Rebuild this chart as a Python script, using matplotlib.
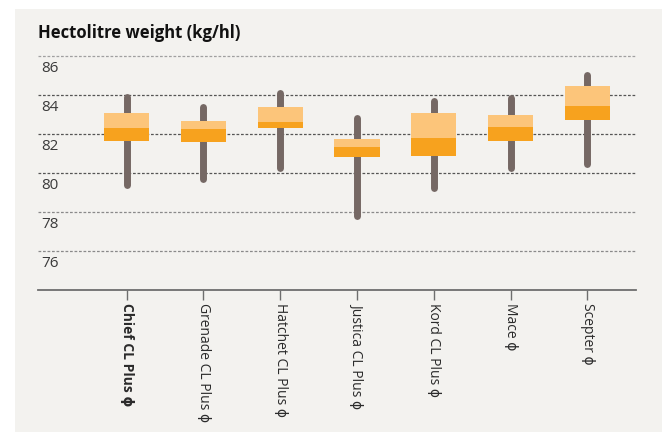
"""Hectolitre weight ranges for seven wheat varieties."""

import matplotlib
matplotlib.use("Agg")
import matplotlib.pyplot as plt
from matplotlib.patches import Rectangle

plt.rcParams["font.family"] = ["Open Sans", "DejaVu Sans"]

FIG_W, FIG_H = 662, 432
PANEL_COLOR = "#f3f2ef"
WHISKER_COLOR = "#756864"
LIGHT_ORANGE = "#fcc57a"
DARK_ORANGE = "#f7a21e"
BOX_WIDTH = 0.59
OUTPUT_FILENAME = "out.png"

varieties = ["Chief CL Plus ϕ", "Grenade CL Plus ϕ", "Hatchet CL Plus ϕ", "Justica CL Plus ϕ",
             "Kord CL Plus ϕ", "Mace ϕ", "Scepter ϕ"]
whisker_low = [79.4, 79.7, 80.25, 77.8, 79.25, 80.25, 80.45]
whisker_high = [83.9, 83.4, 84.1, 82.8, 83.7, 83.85, 85.05]
box_low = [81.65, 81.6, 82.3, 80.8, 80.85, 81.65, 82.7]
box_mid = [82.3, 82.25, 82.6, 81.35, 81.8, 82.35, 83.45]
box_high = [83.1, 82.65, 83.4, 81.75, 83.1, 82.95, 84.45]
y_ticks = [86, 84, 82, 80, 78, 76]
grid_colors = ["#a0a0a0", "#555555", "#555555", "#555555", "#8a8a8a", "#8a8a8a"]

fig = plt.figure(figsize=(FIG_W / 100, FIG_H / 100), dpi=100, facecolor="white")

# light grey panel behind everything
fig.patches.append(Rectangle((15 / FIG_W, 0), 1, 1 - 9 / FIG_H, transform=fig.transFigure,
                             facecolor=PANEL_COLOR, edgecolor="none", zorder=-1))

ax = fig.add_axes([38.3 / FIG_W, (FIG_H - 290) / FIG_H, 597.4 / FIG_W, 253.5 / FIG_H])
ax.set_facecolor("none")
ax.set_xlim(-1.15, 6.63)
ax.set_ylim(74, 87)

# dashed gridlines with the value written just below each one
for value, color in zip(y_ticks, grid_colors):
    ax.axhline(value, color=color, linewidth=0.9, linestyle=(0, (2.2, 1.4)), zorder=1)
    ax.text(0.005, value - 0.63, str(value), transform=ax.get_yaxis_transform(),
            ha="left", va="center", fontsize=11, color="#3a3a3a")

positions = range(len(varieties))
for x, lo, hi, q1, med, q3 in zip(positions, whisker_low, whisker_high, box_low, box_mid, box_high):
    ax.plot([x, x], [lo, hi], color=WHISKER_COLOR, linewidth=5, solid_capstyle="round", zorder=2)
    ax.bar(x, med - q1, bottom=q1, width=BOX_WIDTH, color=DARK_ORANGE, zorder=3)
    ax.bar(x, q3 - med, bottom=med, width=BOX_WIDTH, color=LIGHT_ORANGE, zorder=3)

for side in ["top", "right", "left"]:
    ax.spines[side].set_visible(False)
ax.spines["bottom"].set_color("#6e6e6e")
ax.spines["bottom"].set_linewidth(1.3)

ax.set_yticks([])
ax.set_xticks(list(positions))
ax.set_xticklabels(varieties, rotation=-90, fontsize=10, color="#2a2a2a", va="top", ha="center")
ax.get_xticklabels()[0].set_fontweight("bold")
ax.tick_params(axis="x", length=7.2, width=1, color="#6e6e6e", pad=2)

fig.text(38 / FIG_W, 1 - 33 / FIG_H, "Hectolitre weight (kg/hl)", fontsize=12, fontweight="bold",
         ha="left", va="center", color="#111111")

fig.savefig(OUTPUT_FILENAME, dpi=100, facecolor=fig.get_facecolor())
